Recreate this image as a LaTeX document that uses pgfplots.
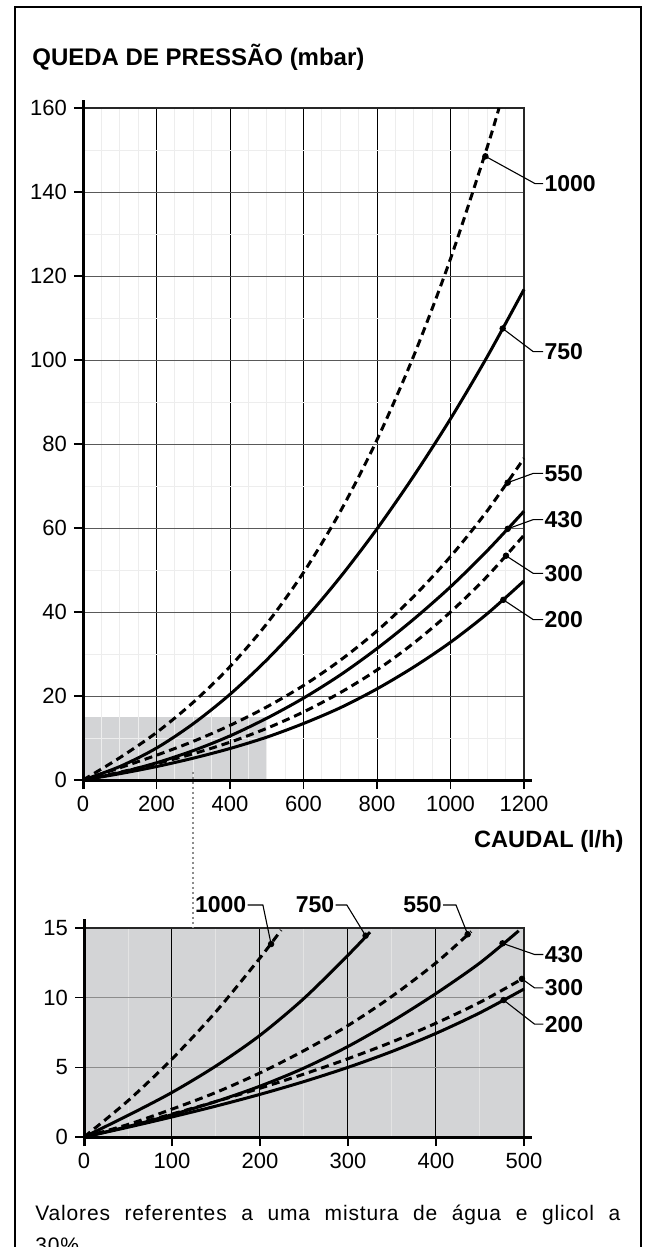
\documentclass[border=0pt]{standalone}
\usepackage{fontspec}
\setmainfont{Liberation Sans}
\newfontfamily\capfont{Liberation Sans}[LetterSpace=4]
\usepackage{pgfplots}
\pgfplotsset{compat=1.18}
\definecolor{graybox}{RGB}{211,212,214}
\definecolor{dotgray}{RGB}{140,140,140}

\pgfplotsset{
  chart/.style={
    scale only axis, set layers, clip=false,
    axis line style={black!85, line width=0.6pt},
    tick align=outside, xtick pos=left, ytick pos=left,
    major tick length=4.5pt, minor tick length=0pt,
    tick style={black, line width=0.8pt},
    grid=both,
    minor grid style={black!7, line width=0.5pt},
    major x grid style={black, line width=0.5pt},
    major y grid style={black!65, line width=0.5pt},
    tick label style={font=\fontsize{11}{13}\selectfont},
    /pgf/number format/assume math mode=true,
    /pgf/number format/1000 sep={},
  },
  curve/.style={black, line width=1.5pt, smooth, no marks},
  dcurve/.style={curve, dash pattern=on 4pt off 2.5pt},
  dot/.style={only marks, mark=*, mark size=1.4pt, black},
}
\tikzset{
  lead/.style={black, line width=0.55pt},
  lab/.style={font=\bfseries\fontsize{11.5}{13}\selectfont, inner sep=0.5pt},
}

\begin{document}
\begin{tikzpicture}
\draw[line width=1pt] (7.5pt,-640pt) -- (7.5pt,-3.5pt) -- (320.5pt,-3.5pt) -- (320.5pt,-640pt);
\node[anchor=base west, inner sep=0, font=\bfseries\fontsize{12}{14}\selectfont] at (16pt,-32.8pt) {QUEDA DE PRESSÃO (mbar)};
\node[anchor=base east, inner sep=0, font=\bfseries\fontsize{11.8}{14}\selectfont] at (312pt,-423.5pt) {CAUDAL (l/h)};

% main chart
\begin{axis}[chart, at={(41.5pt,-390pt)}, anchor=south west,
  width=220.5pt, height=336pt,
  xmin=0, xmax=1200, ymin=0, ymax=160,
  xtick={0,200,...,1200}, ytick={0,20,...,160},
  minor x tick num=3, minor y tick num=1]
\addplot[fill=graybox, draw=none, on layer=axis background] coordinates {(0,0) (0,15) (500,15) (500,0)} \closedcycle;
% 1000
\addplot[dcurve] coordinates {(0,0) (100,5.3) (200,11.3) (300,18.5) (400,27) (500,37.2) (600,49.4) (700,63.9) (800,81) (900,101) (1000,124.1) (1100,150.7) (1132,160)};
% 750
\addplot[curve] coordinates {(0,0) (100,3.2) (200,7.6) (300,13.4) (400,20.4) (500,28.6) (600,37.9) (700,48.3) (800,59.8) (900,72.4) (1000,86) (1100,100.8) (1200,116.8)};
% 550
\addplot[dcurve] coordinates {(0,0) (100,2.9) (200,5.9) (300,9.2) (400,13) (500,17.4) (600,22.5) (700,28.5) (800,35.5) (900,43.7) (1000,53.2) (1100,64.1) (1200,76.6)};
% 430
\addplot[curve] coordinates {(0,0) (100,1.75) (200,4.1) (300,7) (400,10.5) (500,14.7) (600,19.5) (700,25) (800,31.3) (900,38.3) (1000,46) (1100,54.6) (1200,64)};
% 300
\addplot[dcurve] coordinates {(0,0) (100,1.85) (200,3.9) (300,6.25) (400,9) (500,12.3) (600,16.2) (700,20.8) (800,26.2) (900,32.6) (1000,40) (1100,48.5) (1200,58.3)};
% 200
\addplot[curve] coordinates {(0,0) (100,1.5) (200,3.2) (300,5.2) (400,7.5) (500,10.2) (600,13.45) (700,17.2) (800,21.7) (900,26.9) (1000,32.8) (1100,39.6) (1200,47.4)};
\addplot[dot] coordinates {(1095,148.5) (1142,107.5) (1155.6,70.8) (1155.6,59.8) (1151,53.4) (1143.8,42.9)};
\draw[lead] (axis cs:1095,148.5) -- (axis cs:1230,142) -- (axis cs:1252,142);
\node[lab, anchor=west] at (axis cs:1252,142) {1000};
\draw[lead] (axis cs:1142,107.5) -- (axis cs:1225,102) -- (axis cs:1252,102);
\node[lab, anchor=west] at (axis cs:1252,102) {750};
\draw[lead] (axis cs:1155.6,70.8) -- (axis cs:1225,73) -- (axis cs:1252,73);
\node[lab, anchor=west] at (axis cs:1252,73) {550};
\draw[lead] (axis cs:1155.6,59.8) -- (axis cs:1225,62) -- (axis cs:1252,62);
\node[lab, anchor=west] at (axis cs:1252,62) {430};
\draw[lead] (axis cs:1151,53.4) -- (axis cs:1225,49.2) -- (axis cs:1252,49.2);
\node[lab, anchor=west] at (axis cs:1252,49.2) {300};
\draw[lead] (axis cs:1143.8,42.9) -- (axis cs:1225,38.2) -- (axis cs:1252,38.2);
\node[lab, anchor=west] at (axis cs:1252,38.2) {200};
\draw[dotgray, line width=1pt, dash pattern=on 1pt off 1.5pt] (axis cs:300,2) -- (axis cs:300,-35.2);
\draw[line width=1.5pt] ([yshift=-4.5pt]rel axis cs:0,0) -- ([yshift=4pt]rel axis cs:0,1);
\draw[line width=1.5pt] ([xshift=-0.75pt]rel axis cs:0,0) -- ([xshift=4pt]rel axis cs:1,0);
\end{axis}

% zoomed chart
\begin{axis}[chart, at={(42pt,-568.5pt)}, anchor=south west,
  width=220pt, height=104.5pt,
  axis background/.style={fill=graybox},
  xmin=0, xmax=500, ymin=0, ymax=15,
  xtick={0,100,...,500}, ytick={0,5,10,15},
  minor x tick num=1, minor y tick num=0,
  minor grid style={black!11, line width=0.5pt},
  major y grid style={black!45, line width=0.5pt}]
% 1000
\addplot[dcurve] coordinates {(0,0) (50,2.6) (100,5.6) (150,9) (200,12.85) (224,14.85)};
% 750
\addplot[curve] coordinates {(0,0) (50,1.55) (100,3.2) (150,5.1) (200,7.3) (250,9.95) (300,13.05) (325,14.7)};
% 550
\addplot[dcurve] coordinates {(0,0) (50,0.9) (100,2) (150,3.2) (200,4.6) (250,6.2) (300,8) (350,10.1) (400,12.5) (440,14.75)};
% 430
\addplot[curve] coordinates {(0,0) (50,0.75) (100,1.6) (150,2.55) (200,3.65) (250,4.95) (300,6.5) (350,8.3) (400,10.3) (450,12.5) (494,14.8)};
% 300
\addplot[dcurve] coordinates {(0,0) (50,0.8) (100,1.65) (150,2.55) (200,3.5) (250,4.52) (300,5.62) (350,6.82) (400,8.17) (450,9.67) (500,11.42)};
% 200
\addplot[curve] coordinates {(0,0) (50,0.7) (100,1.44) (150,2.22) (200,3.06) (250,3.98) (300,5) (350,6.14) (400,7.44) (450,8.92) (500,10.62)};
\addplot[dot] coordinates {(212.6,13.85) (320,14.45) (436,14.55) (475.6,13.9) (497.7,11.35) (476.8,9.83)};
\draw[lead] (axis cs:212.6,13.85) -- (axis cs:203.3,16.65) -- (axis cs:186,16.65);
\node[lab, anchor=east] at (axis cs:186,16.65) {1000};
\draw[lead] (axis cs:320,14.45) -- (axis cs:298.7,16.65) -- (axis cs:286,16.65);
\node[lab, anchor=east] at (axis cs:286,16.65) {750};
\draw[lead] (axis cs:436,14.55) -- (axis cs:422.7,16.65) -- (axis cs:408,16.65);
\node[lab, anchor=east] at (axis cs:408,16.65) {550};
\draw[lead] (axis cs:475.6,13.9) -- (axis cs:512,13.1) -- (axis cs:522,13.1);
\node[lab, anchor=west] at (axis cs:522,13.1) {430};
\draw[lead] (axis cs:497.7,11.35) -- (axis cs:512,10.7) -- (axis cs:522,10.7);
\node[lab, anchor=west] at (axis cs:522,10.7) {300};
\draw[lead] (axis cs:476.8,9.83) -- (axis cs:512,8.1) -- (axis cs:522,8.1);
\node[lab, anchor=west] at (axis cs:522,8.1) {200};
\draw[line width=1.5pt] ([yshift=-4.5pt]rel axis cs:0,0) -- ([yshift=4.5pt]rel axis cs:0,1);
\draw[line width=1.5pt] ([xshift=-0.75pt]rel axis cs:0,0) -- ([xshift=4pt]rel axis cs:1,0);
\end{axis}

\node[anchor=base west, inner sep=0, font=\capfont\fontsize{10.5}{16}\selectfont] at (17.5pt,-610pt) {\makebox[292.5pt][s]{Valores referentes a uma mistura de água e glicol a}};
\node[anchor=base west, inner sep=0, font=\capfont\fontsize{10.5}{16}\selectfont] at (17.5pt,-626pt) {30\%.};
\pgfresetboundingbox
\useasboundingbox (0,0) rectangle (324pt,-623.5pt);
\end{tikzpicture}
\end{document}
